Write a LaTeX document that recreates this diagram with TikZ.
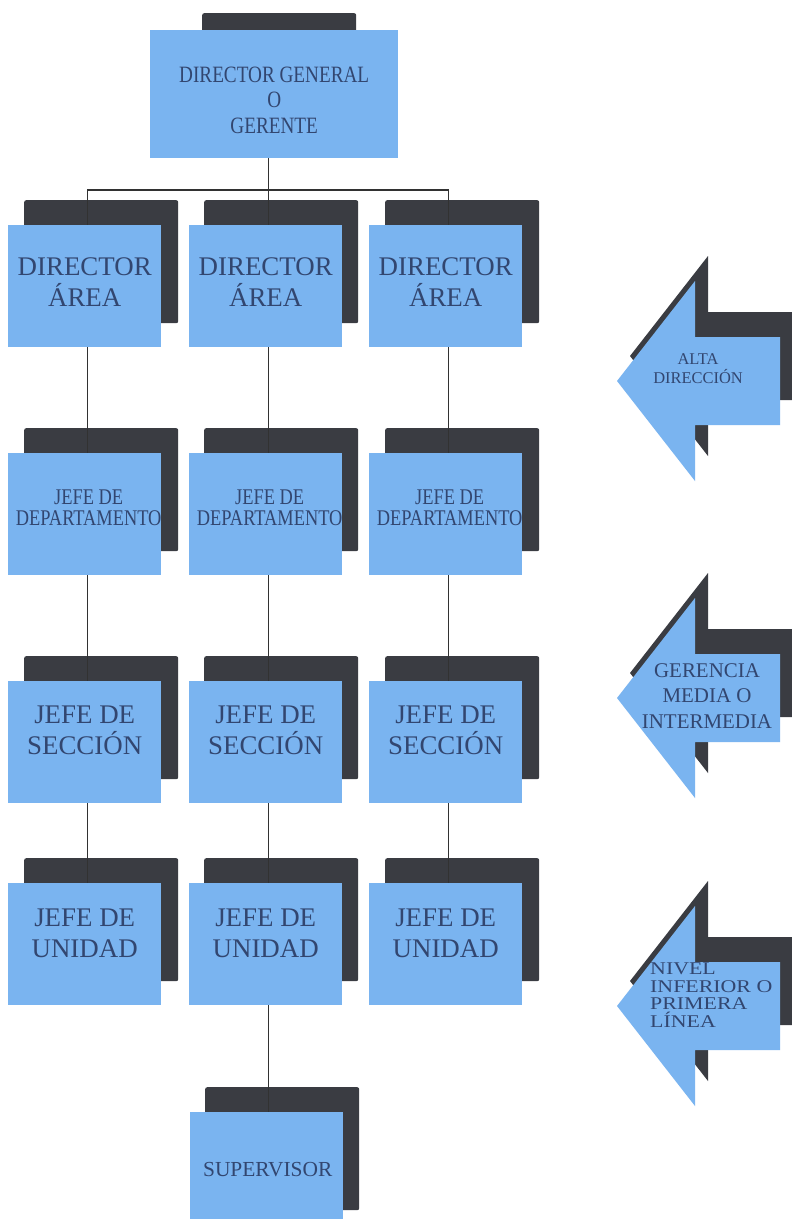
\documentclass[tikz,border=0pt]{standalone}
\usepackage{fontspec}
\setmainfont{Liberation Serif}
\newfontfamily\narrowserif[FakeStretch=0.82]{Liberation Serif}
\newfontfamily\wideserif[FakeStretch=1.22]{Liberation Serif}
\definecolor{boxblue}{RGB}{122,180,240}
\definecolor{shade}{RGB}{58,60,66}
\definecolor{ink}{RGB}{50,70,112}
\definecolor{wirecol}{RGB}{50,50,50}
\tikzset{
  unitbox/.style={fill=boxblue, draw=none, minimum width=153bp, minimum height=122bp,
    inner sep=0pt, anchor=north west},
  shadowbox/.style={fill=shade, draw=none, minimum width=154bp, minimum height=123bp,
    inner sep=0pt, anchor=north west, rounded corners=2bp},
  wire/.style={draw=wirecol, line width=1.5bp},
  lbl/.style={text=ink, align=center, inner sep=0pt},
  bigtxt/.style={lbl, font=\fontsize{27}{30.5}\selectfont},
  midtxt/.style={lbl, font=\narrowserif\fontsize{22.5}{21}\selectfont},
  arrowfill/.style={fill=boxblue, draw=none},
  arrowshade/.style={fill=shade, draw=none},
}
\begin{document}
\begin{tikzpicture}[x=1bp, y=-1bp]
  \clip (0,0) rectangle (792,1229);
  \fill[white] (0,0) rectangle (792,1229);

  % shadows behind the boxes
  \node[shadowbox] (stop) at (202,13) {};
  \foreach \c/\x in {1/24,2/204,3/385}{
    \foreach \r/\y in {1/200,2/428,3/656,4/858}{
      \node[shadowbox] (s\c\r) at (\x,\y) {};
    }
  }
  \node[shadowbox] (ssup) at (205,1087) {};

  % blue boxes (placed now so the connectors can refer to them)
  \node[unitbox, minimum width=248bp, minimum height=128bp] (tb) at (150,30) {};
  \foreach \c/\x in {1/8,2/189,3/369}{
    \foreach \r/\y in {1/225,2/453,3/681,4/883}{
      \path (\x,\y) node[unitbox] (b\c\r) {};
    }
  }
  \node[unitbox, minimum height=107bp] (sup) at (190,1112) {};

  % connector end points
  \foreach \c in {1,2,3}{
    \foreach \r in {1,2,3,4}{
      \coordinate (n\c\r) at ([xshift=3bp]b\c\r.north);
      \coordinate (o\c\r) at ([xshift=3bp]b\c\r.south);
    }
  }
  \coordinate (bus) at (270,190);

  % connectors (over the shadows, under the boxes)
  \draw[wire] (tb.south -| n21) -- (n21);
  \draw[wire] (n11) -- (n11 |- bus) -- (n31 |- bus) -- (n31);
  \foreach \c in {1,2,3}{
    \draw[wire] (o\c1) -- (n\c2);
    \draw[wire] (o\c2) -- (n\c3);
    \draw[wire] (o\c3) -- (n\c4);
  }
  \draw[wire] (o24) -- (o24 |- sup.north);

  % boxes repainted on top of the connectors
  \fill[boxblue] (tb.north west) rectangle (tb.south east);
  \foreach \c in {1,2,3}{
    \foreach \r in {1,2,3,4}{
      \fill[boxblue] (b\c\r.north west) rectangle (b\c\r.south east);
    }
  }
  \fill[boxblue] (sup.north west) rectangle (sup.south east);

  % box texts
  \node[lbl, font=\narrowserif\fontsize{23.5}{25.5}\selectfont] (ttop) at ([yshift=-6bp]tb.center)
    {DIRECTOR GENERAL\\O\\GERENTE};
  \foreach \c in {1,2,3}{
    \node[bigtxt] (t\c1) at ([yshift=4bp]b\c1.center) {DIRECTOR\\ÁREA};
    \node[midtxt] (t\c2) at ([xshift=4bp,yshift=6bp]b\c2.center) {JEFE DE\\DEPARTAMENTO};
    \node[bigtxt] (t\c3) at ([yshift=12bp]b\c3.center) {JEFE DE\\SECCIÓN};
    \node[bigtxt] (t\c4) at ([yshift=11bp]b\c4.center) {JEFE DE\\UNIDAD};
  }
  \node[lbl, font=\fontsize{21.5}{25}\selectfont] (tsup) at ([xshift=1bp,yshift=-4bp]sup.center) {SUPERVISOR};

  % level arrows on the right
  \foreach \cy in {381,698,1006}{
    \fill[arrowshade, shift={(13,-25)}] (617,\cy) -- (695,\cy-100) -- (695,\cy-44) -- (780,\cy-44)
      -- (780,\cy+44) -- (695,\cy+44) -- (695,\cy+100) -- cycle;
    \fill[arrowfill] (617,\cy) -- (695,\cy-100) -- (695,\cy-44) -- (780,\cy-44)
      -- (780,\cy+44) -- (695,\cy+44) -- (695,\cy+100) -- cycle;
  }
  \node[lbl, font=\fontsize{16.5}{19}\selectfont] (alta) at (698,369) {ALTA\\DIRECCIÓN};
  \node[lbl, font=\fontsize{21}{26}\selectfont] (media) at (707,696) {GERENCIA\\MEDIA O\\INTERMEDIA};
  \node[lbl, align=left, anchor=west, font=\wideserif\fontsize{18}{17.5}\selectfont] (nivel) at (650,995)
    {NIVEL\\INFERIOR O\\PRIMERA\\LÍNEA};
\end{tikzpicture}
\end{document}
